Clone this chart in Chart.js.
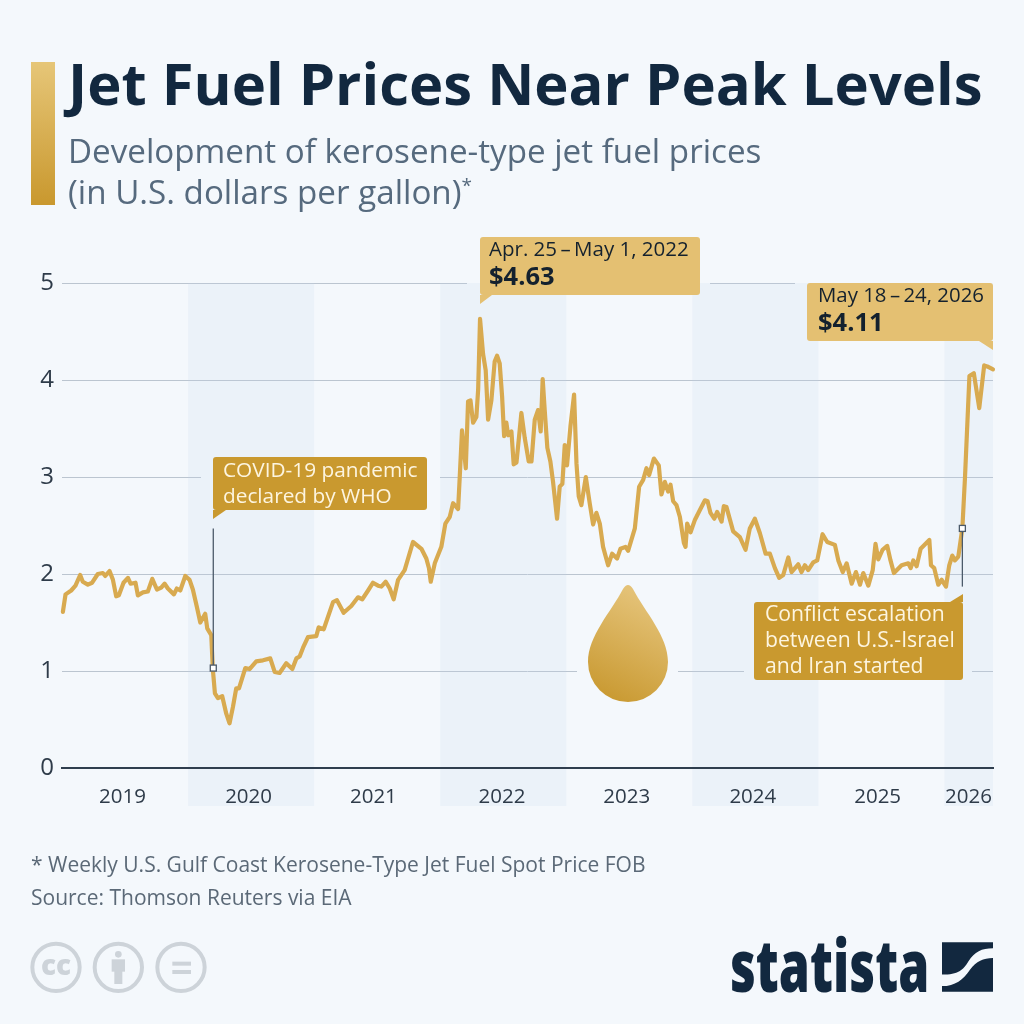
<!DOCTYPE html>
<html lang="en">
<head>
<meta charset="utf-8">
<title>Jet Fuel Prices Near Peak Levels</title>
<script src="https://cdn.jsdelivr.net/npm/chart.js@4"></script>
<style>
    html, body { margin: 0; padding: 0; background: #f4f8fc; }
    body { position: relative; width: 1024px; height: 1024px; overflow: hidden; font-family: "Open Sans", sans-serif; }
    #chart { position: absolute; left: 0; top: 0; }
    .txt { position: absolute; white-space: nowrap; line-height: 1; }
    #bar { position: absolute; left: 31px; top: 62px; width: 24px; height: 143px; background: linear-gradient(#e6c678, #c9982e); }
    #title { left: 68px; top: 53.5px; font-size: 58px; font-weight: 700; color: #12283f; }
    .sub { left: 68px; font-size: 33.2px; color: #566a7e; }
    .sub sup { font-size: 19px; line-height: 0; }
    .note { left: 31px; font-size: 21px; color: #5b6977; }
    #logo { left: 730px; top: 927px; font-size: 73px; font-weight: 800; color: #12283f; transform: scaleX(0.685); transform-origin: left top; }
    svg { position: absolute; }
</style>
</head>
<body>
<canvas id="chart" width="1024" height="1024"></canvas>
<div id="bar"></div>
<div class="txt" id="title">Jet Fuel Prices Near Peak Levels</div>
<div class="txt sub" style="top:134px">Development of kerosene-type jet fuel prices</div>
<div class="txt sub" style="top:175px">(in U.S. dollars per gallon)<sup>*</sup></div>
<div class="txt note" style="top:853.5px">* Weekly U.S. Gulf Coast Kerosene-Type Jet Fuel Spot Price FOB</div>
<div class="txt note" style="top:886.5px">Source: Thomson Reuters via EIA</div>

<svg style="left:20px;top:930px" width="200" height="75" viewBox="0 0 600 225">
    <g fill="none" stroke="#cdd3d9" stroke-width="12">
        <circle cx="108" cy="112" r="71"/>
        <circle cx="295" cy="112" r="71"/>
        <circle cx="483" cy="112" r="71"/>
    </g>
    <g fill="#cdd3d9">
        <text x="108" y="136" text-anchor="middle" font-family="Open Sans" font-weight="800" font-size="84">cc</text>
        <circle cx="295" cy="73" r="10"/>
        <rect x="275" y="88" width="40" height="37"/>
        <rect x="283" y="120" width="24" height="42"/>
        <rect x="457" y="95" width="56" height="12"/>
        <rect x="457" y="120" width="56" height="12"/>
    </g>
</svg>
<div class="txt" id="logo">statista</div>
<svg style="left:942px;top:942px" width="51" height="50" viewBox="665 37 155 150">
    <path fill="#12283f" d="M665 37H820V55C785 55 765 65 745 95C730 120 715 135 665 135Z"/>
    <path fill="#12283f" d="M820 85V187H665V170C705 170 730 150 750 120C770 95 790 85 820 85Z"/>
</svg>

<script>
// Weekly price curve, vertices read as decimal years
const weekYears = [
    2019.007, 2019.028, 2019.073, 2019.107, 2019.144, 2019.165, 2019.205, 2019.239, 2019.284, 2019.324,
    2019.343, 2019.377, 2019.404, 2019.430, 2019.451, 2019.488, 2019.523, 2019.544, 2019.583, 2019.602,
    2019.642, 2019.681, 2019.716, 2019.753, 2019.787, 2019.814, 2019.840, 2019.888, 2019.911, 2019.938,
    2019.978, 2020.012, 2020.038, 2020.070, 2020.097, 2020.136, 2020.152, 2020.184, 2020.197, 2020.213,
    2020.237, 2020.271, 2020.303, 2020.329, 2020.356, 2020.382, 2020.404, 2020.454, 2020.488, 2020.541,
    2020.594, 2020.652, 2020.687, 2020.726, 2020.779, 2020.827, 2020.859, 2020.885, 2020.912, 2020.951,
    2021.017, 2021.036, 2021.076, 2021.150, 2021.181, 2021.234, 2021.295, 2021.348, 2021.382, 2021.428,
    2021.467, 2021.507, 2021.533, 2021.568, 2021.600, 2021.631, 2021.666, 2021.718, 2021.784, 2021.851,
    2021.890, 2021.911, 2021.925, 2021.957, 2022.009, 2022.041, 2022.076, 2022.102, 2022.142, 2022.155,
    2022.173, 2022.203, 2022.221, 2022.240, 2022.261, 2022.287, 2022.301, 2022.316, 2022.340, 2022.361,
    2022.380, 2022.406, 2022.432, 2022.451, 2022.472, 2022.491, 2022.507, 2022.525, 2022.539, 2022.565,
    2022.583, 2022.605, 2022.644, 2022.671, 2022.702, 2022.724, 2022.750, 2022.776, 2022.797, 2022.813,
    2022.829, 2022.850, 2022.874, 2022.895, 2022.927, 2022.948, 2022.969, 2022.988, 2023.006, 2023.033,
    2023.062, 2023.081, 2023.099, 2023.120, 2023.155, 2023.186, 2023.213, 2023.239, 2023.266, 2023.292,
    2023.332, 2023.364, 2023.403, 2023.430, 2023.470, 2023.491, 2023.544, 2023.578, 2023.610, 2023.636,
    2023.657, 2023.695, 2023.734, 2023.755, 2023.782, 2023.808, 2023.827, 2023.848, 2023.874, 2023.901,
    2023.933, 2023.946, 2023.959, 2023.986, 2024.021, 2024.060, 2024.100, 2024.121, 2024.144, 2024.174,
    2024.197, 2024.232, 2024.250, 2024.271, 2024.324, 2024.377, 2024.422, 2024.456, 2024.496, 2024.536,
    2024.581, 2024.615, 2024.655, 2024.689, 2024.721, 2024.761, 2024.787, 2024.840, 2024.866, 2024.893,
    2024.919, 2024.959, 2024.991, 2025.033, 2025.070, 2025.131, 2025.158, 2025.193, 2025.224, 2025.264,
    2025.298, 2025.330, 2025.356, 2025.396, 2025.431, 2025.453, 2025.475, 2025.509, 2025.546, 2025.572,
    2025.599, 2025.660, 2025.713, 2025.732, 2025.753, 2025.779, 2025.811, 2025.880, 2025.893, 2025.919,
    2025.951, 2025.978, 2026.012, 2026.038, 2026.062, 2026.083, 2026.110, 2026.142, 2026.163, 2026.198,
    2026.233, 2026.276, 2026.315, 2026.339, 2026.385
];
const prices = [
    1.61, 1.79, 1.83, 1.88, 1.99, 1.92, 1.89, 1.91, 2.00, 2.01,
    1.98, 2.03, 1.94, 1.77, 1.78, 1.91, 1.96, 1.90, 1.91, 1.78,
    1.81, 1.82, 1.95, 1.84, 1.86, 1.90, 1.85, 1.79, 1.85, 1.83,
    1.98, 1.94, 1.84, 1.66, 1.50, 1.59, 1.44, 1.37, 1.01, 0.77,
    0.72, 0.74, 0.56, 0.46, 0.63, 0.82, 0.82, 1.03, 1.02, 1.10,
    1.11, 1.13, 0.99, 0.98, 1.08, 1.02, 1.13, 1.15, 1.24, 1.35,
    1.36, 1.45, 1.43, 1.71, 1.73, 1.60, 1.67, 1.76, 1.74, 1.83,
    1.91, 1.88, 1.87, 1.92, 1.85, 1.74, 1.94, 2.04, 2.33, 2.26,
    2.16, 2.06, 1.92, 2.11, 2.28, 2.52, 2.59, 2.73, 2.67, 3.00,
    3.48, 3.09, 3.78, 3.79, 3.56, 3.62, 3.90, 4.63, 4.27, 4.10,
    3.59, 3.79, 4.19, 4.25, 4.17, 3.83, 3.42, 3.56, 3.43, 3.47,
    3.13, 3.15, 3.66, 3.40, 3.16, 3.16, 3.59, 3.69, 3.47, 4.01,
    3.69, 3.30, 3.16, 2.95, 2.57, 2.90, 2.93, 3.33, 3.12, 3.52,
    3.85, 3.14, 2.80, 2.71, 3.00, 2.73, 2.51, 2.63, 2.52, 2.28,
    2.09, 2.21, 2.16, 2.26, 2.28, 2.24, 2.47, 2.90, 2.97, 3.09,
    3.02, 3.19, 3.12, 2.82, 2.95, 2.85, 2.92, 2.75, 2.71, 2.59,
    2.32, 2.28, 2.52, 2.43, 2.56, 2.66, 2.76, 2.75, 2.63, 2.57,
    2.64, 2.54, 2.70, 2.69, 2.44, 2.38, 2.25, 2.47, 2.57, 2.42,
    2.21, 2.21, 2.06, 1.96, 1.99, 2.17, 2.02, 2.10, 2.02, 2.09,
    2.04, 2.12, 2.14, 2.41, 2.33, 2.30, 2.14, 2.02, 2.11, 1.90,
    2.02, 1.89, 2.01, 1.88, 2.04, 2.31, 2.15, 2.25, 2.29, 2.14,
    2.01, 2.09, 2.11, 2.06, 2.14, 2.08, 2.26, 2.35, 2.09, 2.06,
    1.89, 1.94, 1.87, 2.09, 2.19, 2.14, 2.18, 2.47, 3.00, 4.04,
    4.07, 3.71, 4.15, 4.14, 4.11
];

const yTicks = [0, 1, 2, 3, 4, 5];
// year labels sit near the middle of each visible year span
const yearLabelPositions = [2019.48, 2020.48, 2021.47, 2022.49, 2023.48, 2024.48, 2025.47, 2026.19];
// alternating shaded years
const shadedYears = [[2020, 2021], [2022, 2023], [2024, 2025], [2026, 2026.385]];

const PAGE_BG = '#f4f8fc';
const INK = '#2e3b49';
const GOLD_LIGHT = '#e4c072';
const GOLD_DARK = '#c9992f';

// Spots where the horizontal grid lines stop short of a label box or the drop icon
const gridGaps = [
    { value: 5, from: 467, to: 710 },
    { value: 5, from: 795, to: 995 },
    { value: 3, from: 201, to: 440 },
    { value: 1, from: 577, to: 678 },
    { value: 1, from: 744, to: 972 }
];

const PALE = '#fdf5e0';
const DARK_TEXT = '#14212e';

const callouts = [
    {
        box: [480, 237, 220, 58], fill: GOLD_LIGHT, tail: [[480, 295], [480, 304], [492, 295]],
        lines: [
            { text: 'Apr. 25\u2009\u2013\u2009May 1, 2022', x: 489, y: 256, font: '20.5px "Open Sans"', color: DARK_TEXT },
            { text: '$4.63', x: 489, y: 285, font: '700 25.5px "Open Sans"', color: DARK_TEXT }
        ]
    },
    {
        box: [807, 283, 186, 58], fill: GOLD_LIGHT, tail: [[993, 341], [993, 350], [979, 341]],
        lines: [
            { text: 'May 18\u2009\u2013\u200924, 2026', x: 818, y: 302, font: '20.4px "Open Sans"', color: DARK_TEXT },
            { text: '$4.11', x: 818, y: 331, font: '700 25.5px "Open Sans"', color: DARK_TEXT }
        ]
    },
    {
        box: [213, 457, 214, 53], fill: GOLD_DARK, tail: [[213, 510], [213, 519], [226, 510]],
        lines: [
            { text: 'COVID-19 pandemic', x: 223, y: 477, font: '20.8px "Open Sans"', color: PALE },
            { text: 'declared by WHO', x: 223, y: 503, font: '20.8px "Open Sans"', color: PALE }
        ]
    },
    {
        box: [754, 602, 209, 78], fill: GOLD_DARK, tail: [[963, 602], [963, 594], [950, 602]],
        lines: [
            { text: 'Conflict escalation', x: 765, y: 621, font: '21.2px "Open Sans"', color: PALE },
            { text: 'between U.S.-Israel', x: 765, y: 647, font: '21.2px "Open Sans"', color: PALE },
            { text: 'and Iran started', x: 765, y: 673, font: '21.2px "Open Sans"', color: PALE }
        ]
    }
];

// Leader lines: event year, value at the curve, value at the far end of the line
const eventMarks = [
    { year: 2020.2, value: 1.03, end: 2.47 },
    { year: 2026.142, value: 2.47, end: 1.87 }
];

/**
 * Shaded year bands and the breaks in the grid lines.
 * Runs after the grid is painted, before the curve.
 */
const backdropPlugin = {
    id: 'backdrop',
    beforeDatasetsDraw(chart) {
        const { ctx, scales: { x, y } } = chart;
        ctx.save();

        ctx.fillStyle = PAGE_BG;
        gridGaps.forEach(gap => {
            ctx.fillRect(gap.from, y.getPixelForValue(gap.value) - 2, gap.to - gap.from, 4);
        });

        // Bands run from the top grid line down past the year labels
        ctx.fillStyle = 'rgba(190, 210, 235, 0.16)';
        shadedYears.forEach(([start, end]) => {
            const left = x.getPixelForValue(start);
            const top = y.getPixelForValue(5);
            ctx.fillRect(left, top, x.getPixelForValue(end) - left, 806 - top);
        });
        ctx.restore();
    }
};

// Drop icon between the 2023 lows and the axis
function drawDrop(ctx) {
    const grad = ctx.createLinearGradient(650, 600, 600, 700);
    grad.addColorStop(0, '#e4c277');
    grad.addColorStop(1, '#c8982f');
    ctx.fillStyle = grad;
    ctx.beginPath();
    ctx.moveTo(623, 589);
    ctx.quadraticCurveTo(628, 581, 633, 589);
    ctx.bezierCurveTo(645, 612, 668, 636, 668, 662);
    ctx.arc(628, 662, 40, 0, Math.PI);
    ctx.bezierCurveTo(588, 636, 611, 612, 623, 589);
    ctx.closePath();
    ctx.fill();
}

function drawCallout(ctx, c) {
    const [bx, by, bw, bh] = c.box;
    ctx.fillStyle = c.fill;
    ctx.beginPath();
    ctx.roundRect(bx, by, bw, bh, 3);
    ctx.fill();
    ctx.beginPath();
    c.tail.forEach(([px, py], i) => (i ? ctx.lineTo(px, py) : ctx.moveTo(px, py)));
    ctx.closePath();
    ctx.fill();
    ctx.textAlign = 'left';
    ctx.textBaseline = 'alphabetic';
    c.lines.forEach(line => {
        ctx.font = line.font;
        ctx.fillStyle = line.color;
        ctx.fillText(line.text, line.x, line.y);
    });
}

const overlayPlugin = {
    id: 'overlay',
    afterDatasetsDraw(chart) {
        const { ctx, scales: { x, y } } = chart;
        ctx.save();
        drawDrop(ctx);
        callouts.forEach(c => drawCallout(ctx, c));

        eventMarks.forEach(mark => {
            const px = x.getPixelForValue(mark.year);
            const py = y.getPixelForValue(mark.value);
            ctx.strokeStyle = '#4b5a6a';
            ctx.lineWidth = 1.3;
            ctx.beginPath();
            ctx.moveTo(px, py);
            ctx.lineTo(px, y.getPixelForValue(mark.end));
            ctx.stroke();
            ctx.fillStyle = '#ffffff';
            ctx.fillRect(px - 3, py - 3, 6, 6);
            ctx.strokeRect(px - 3, py - 3, 6, 6);
        });
        ctx.restore();
    }
};

new Chart(document.getElementById('chart').getContext('2d'), {
    type: 'line',
    data: {
        datasets: [{
            data: weekYears.map((year, i) => ({ x: year, y: prices[i] })),
            borderColor: '#d8aa50',
            borderWidth: 4.2,
            borderJoinStyle: 'round',
            borderCapStyle: 'round',
            pointRadius: 0,
            tension: 0,
            clip: false
        }]
    },
    plugins: [backdropPlugin, overlayPlugin],
    options: {
        responsive: false,
        animation: false,
        events: [],
        layout: { padding: { top: 283, right: 31, bottom: 200, left: 0 } },
        plugins: { legend: { display: false }, tooltip: { enabled: false } },
        scales: {
            x: {
                type: 'linear',
                min: 2019,
                max: 2026.385,
                afterFit(scale) { scale.height = 56; },
                afterBuildTicks(scale) {
                    scale.ticks = yearLabelPositions.map(value => ({ value }));
                },
                grid: { display: false },
                border: { color: '#2f3e4e', width: 2, z: 1 },
                ticks: {
                    z: 1,
                    autoSkip: false,
                    maxRotation: 0,
                    padding: 9,
                    color: INK,
                    font: { family: '"Open Sans"', size: 20.5 },
                    callback: value => String(Math.floor(value))
                }
            },
            y: {
                min: 0,
                max: 5,
                afterFit(scale) { scale.width = 62; },
                afterBuildTicks(scale) {
                    scale.ticks = yTicks.map(value => ({ value }));
                },
                grid: { color: '#bbc5d0', lineWidth: 1, drawTicks: false },
                border: { display: false },
                ticks: {
                    z: 1,
                    padding: 8,
                    color: INK,
                    font: { family: '"Open Sans"', size: 24 }
                }
            }
        }
    }
});
</script>
</body>
</html>
